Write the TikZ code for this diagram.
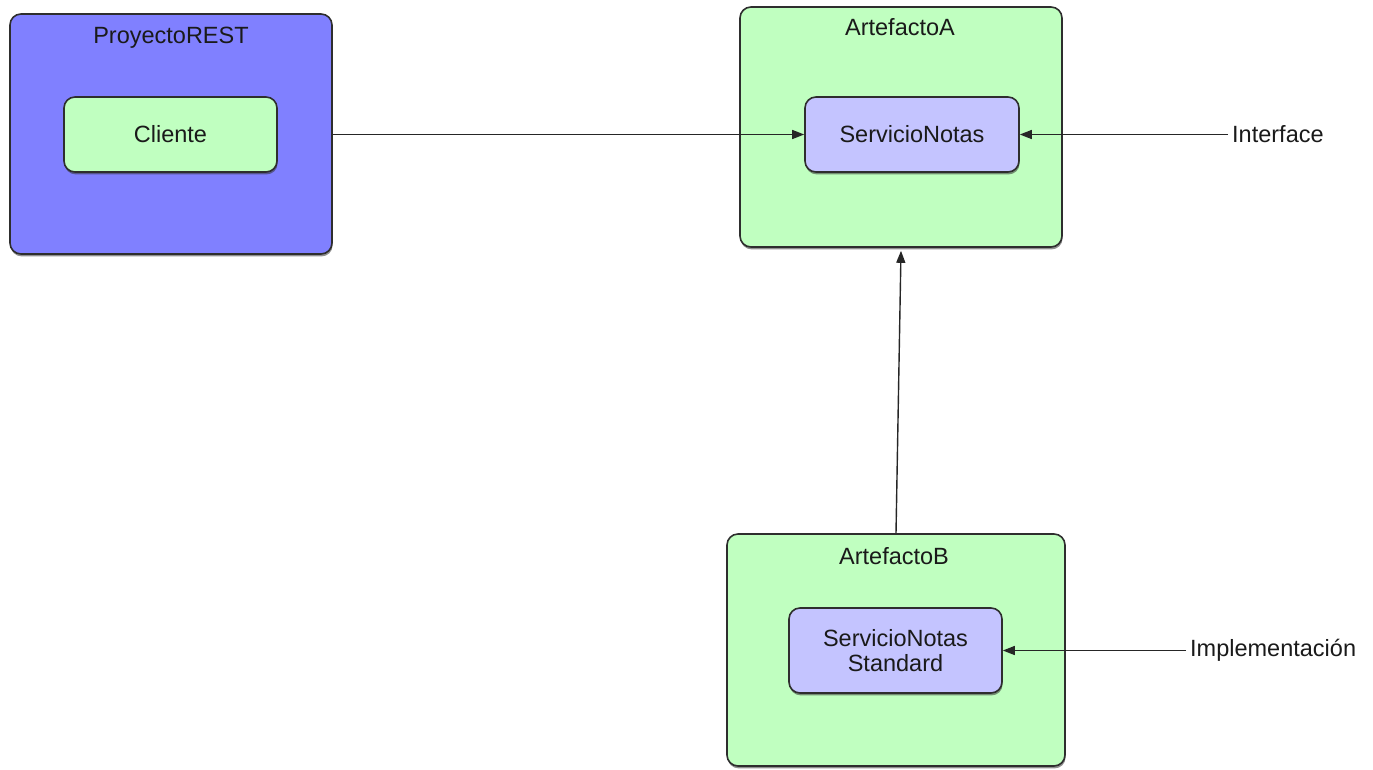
\documentclass[tikz,border=0pt]{standalone}
\usepackage{fontspec}
\setmainfont{Liberation Sans}
\usetikzlibrary{shadows,arrows.meta}
\definecolor{projblue}{HTML}{8080FF}
\definecolor{artgreen}{HTML}{C0FFC0}
\definecolor{svclav}{HTML}{C4C4FF}
\definecolor{edge}{HTML}{2E2E2E}
\definecolor{txt}{HTML}{1A1A1A}
\tikzset{
  basebox/.style={draw=edge, line width=1.6pt, rounded corners=11pt,
    drop shadow={shadow xshift=0.6pt, shadow yshift=-2.4pt, opacity=0.55, fill=black!80}},
  inner/.style={basebox, align=center, text=txt},
  title/.style={text=txt, inner sep=0pt},
  free/.style={text=txt, inner sep=4pt},
  arr/.style={line width=1.4pt, draw=black!85, -{Triangle[length=12pt,width=9pt]}}
}
\begin{document}
\begin{tikzpicture}[x=1pt,y=-1pt,font=\fontsize{23.5}{28}\selectfont]
\useasboundingbox (0,0) rectangle (1373,769);
% containers
\node[basebox, fill=projblue, minimum width=322pt, minimum height=240pt] (proy) at (171,134) {};
\node[basebox, fill=artgreen, minimum width=322pt, minimum height=240pt] (artA) at (901,127) {};
\node[basebox, fill=artgreen, minimum width=338pt, minimum height=232pt] (artB) at (896,650) {};
% titles
\node[title] (tproy) at (171,38) {ProyectoREST};
\node[title] (tartA) at (900,27) {ArtefactoA};
\node[title] (tartB) at (894,556) {ArtefactoB};
% inner boxes
\node[inner, fill=artgreen, minimum width=213pt, minimum height=75pt] (cli) at (170.5,134.5) {Cliente};
\node[inner, fill=svclav, minimum width=214pt, minimum height=75pt] (serv) at (912,134.5) {ServicioNotas};
\node[inner, fill=svclav, minimum width=213pt, minimum height=85pt] (std) at (895.5,650.5) {ServicioNotas\\[-3pt]Standard};
% free labels
\node[free, anchor=west] (iface) at (1228,134.5) {Interface};
\node[free, anchor=west] (impl) at (1186,650.5) {Implementación};
% connectors
\draw[arr] (proy.east |- serv.west) -- (serv.west);
\draw[arr] (iface.west |- serv.east) -- (serv.east);
\draw[arr] (impl.west |- std.east) -- (std.east);
\draw[arr] (artB.north) -- ([yshift=-3pt]artA.south);
\end{tikzpicture}
\end{document}
